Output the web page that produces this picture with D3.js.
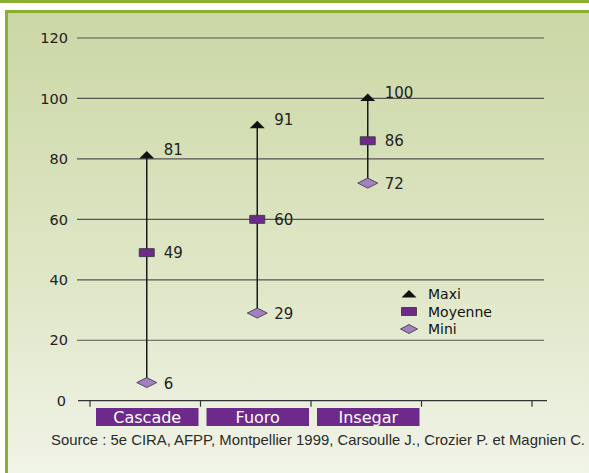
<!DOCTYPE html>
<html><head><meta charset="utf-8">
<script src="https://cdn.jsdelivr.net/npm/d3@7/dist/d3.min.js"></script>
<style>html,body{margin:0;padding:0;background:#fff;}svg{display:block;}</style>
</head><body>
<svg id="c" width="589" height="473"></svg>
<script>
const categories = ["Cascade", "Fuoro", "Insegar"];
const maxValues = [81, 91, 100];
const meanValues = [49, 60, 86];
const minValues = [6, 29, 72];
const yTicks = [0, 20, 40, 60, 80, 100, 120];
const legendLabels = ["Maxi", "Moyenne", "Mini"];
const sourceText = "Source : 5e CIRA, AFPP, Montpellier 1999, Carsoulle J., Crozier P. et Magnien C.";

const svg = d3.select("#c");
const green = "#8aae2e", purple = "#6e2a8a", lilac = "#a47fc2", ink = "#222";
const font = "'DejaVu Sans', sans-serif";

const defs = svg.append("defs");
const grad = defs.append("linearGradient").attr("id","bg").attr("x1",0).attr("y1",0).attr("x2",0).attr("y2",1);
grad.append("stop").attr("offset","0%").attr("stop-color","#cbd7a5");
grad.append("stop").attr("offset","55%").attr("stop-color","#e0e7c8");
grad.append("stop").attr("offset","100%").attr("stop-color","#f4f6ee");

svg.append("rect").attr("x",0).attr("y",0).attr("width",589).attr("height",3).attr("fill",green);
svg.append("rect").attr("x",6.5).attr("y",11.5).attr("width",620).attr("height",500)
  .attr("fill","url(#bg)").attr("stroke",green).attr("stroke-width",3);

const x = d3.scaleBand().domain([...categories, ""]).range([90, 532]).padding(0);
const y = d3.scaleLinear().domain([0, 120]).range([400.7, 38]);

// gridlines
svg.append("g").selectAll("line").data(yTicks.filter(d => d > 0)).join("line")
  .attr("x1", 77).attr("x2", 544).attr("y1", d => y(d)).attr("y2", d => y(d))
  .attr("stroke", "#555").attr("stroke-width", 1.2);

// y labels
svg.append("g").selectAll("text").data(yTicks).join("text")
  .attr("x", d => d === 0 ? 66 : 68).attr("y", d => y(d)).attr("dy", "0.36em")
  .attr("text-anchor", "end").attr("font-family", font).attr("font-size", 14.5).attr("fill", ink)
  .text(d => d);

// x axis
const gx = svg.append("g").attr("transform", `translate(0,${y(0)})`);
gx.append("line").attr("x1", 78).attr("x2", 547).attr("y1", 0).attr("y2", 0).attr("stroke", "#333").attr("stroke-width", 1.2);
const edges = [...x.domain().map(d => x(d)), x.range()[1]];
gx.selectAll("line.tk").data(edges).join("line").attr("class","tk")
  .attr("x1", d => d).attr("x2", d => d).attr("y1", 0).attr("y2", 6)
  .attr("stroke", "#333").attr("stroke-width", 1.2);

// category boxes
const cat = svg.append("g").selectAll("g").data(categories).join("g");
cat.append("rect").attr("x", d => x(d) + 6).attr("y", 408).attr("width", x.bandwidth() - 8).attr("height", 18).attr("fill", purple);
cat.append("text").attr("x", d => x(d) + 6 + (x.bandwidth() - 8) / 2).attr("y", 417).attr("dy", "0.36em")
  .attr("text-anchor", "middle").attr("font-family", font).attr("font-size", 16).attr("fill", "#fff").text(d => d);

const cx = (d) => x(d) + x.bandwidth() / 2 + 1.5;
const data = categories.map((c, i) => ({c, max: maxValues[i], mean: meanValues[i], min: minValues[i]}));

const tri = (px, py) => `M${px},${py-5}L${px+7.5},${py+2.5}L${px-7.5},${py+2.5}Z`;
const sq = (px, py) => `M${px-7.5},${py-4}h15v8h-15Z`;
const dia = (px, py, w = 10, h = 5) => `M${px-w},${py}L${px},${py-h}L${px+w},${py}L${px},${py+h}Z`;

const g = svg.append("g").selectAll("g").data(data).join("g");
g.append("line").attr("x1", d => cx(d.c)).attr("x2", d => cx(d.c))
  .attr("y1", d => y(d.max) - 4).attr("y2", d => y(d.min)).attr("stroke", "#1a1a1a").attr("stroke-width", 1.5);
g.append("path").attr("d", d => tri(cx(d.c), y(d.max))).attr("fill", "#111");
g.append("path").attr("d", d => sq(cx(d.c), y(d.mean))).attr("fill", purple).attr("stroke", "#333").attr("stroke-width", 0.8);
g.append("path").attr("d", d => dia(cx(d.c), y(d.min))).attr("fill", lilac).attr("stroke", "#333").attr("stroke-width", 0.8);

const lab = (sel, key, dy) => sel.append("text").attr("x", d => cx(d.c) + 17).attr("y", d => y(d[key]) + dy)
  .attr("dy", "0.36em").attr("font-family", font).attr("font-size", 15).attr("fill", ink).text(d => d[key]);
lab(g, "max", -6); lab(g, "mean", 0); lab(g, "min", 1);

// legend
const lg = svg.append("g");
const legY = [294, 311.5, 329];
const legShapes = [
  (py) => tri(409, py + 1),
  (py) => sq(409, py),
  (py) => dia(409, py, 8.5, 4.5)
];
const legFill = ["#111", purple, lilac];
legendLabels.forEach((t, i) => {
  lg.append("path").attr("d", legShapes[i](legY[i])).attr("fill", legFill[i])
    .attr("stroke", i ? "#333" : "none").attr("stroke-width", 0.8);
  lg.append("text").attr("x", 428).attr("y", legY[i]).attr("dy", "0.36em")
    .attr("font-family", font).attr("font-size", 14).attr("fill", "#111").text(t);
});

// source
svg.append("text").attr("x", 51).attr("y", 440).attr("dy", "0.36em")
  .attr("font-family", "'Liberation Sans Narrow', 'Liberation Sans', Arial, sans-serif").attr("font-size", 15)
  .attr("fill", "#2a2a2a").attr("textLength", 534).attr("lengthAdjust", "spacingAndGlyphs").text(sourceText);
</script>
</body></html>
